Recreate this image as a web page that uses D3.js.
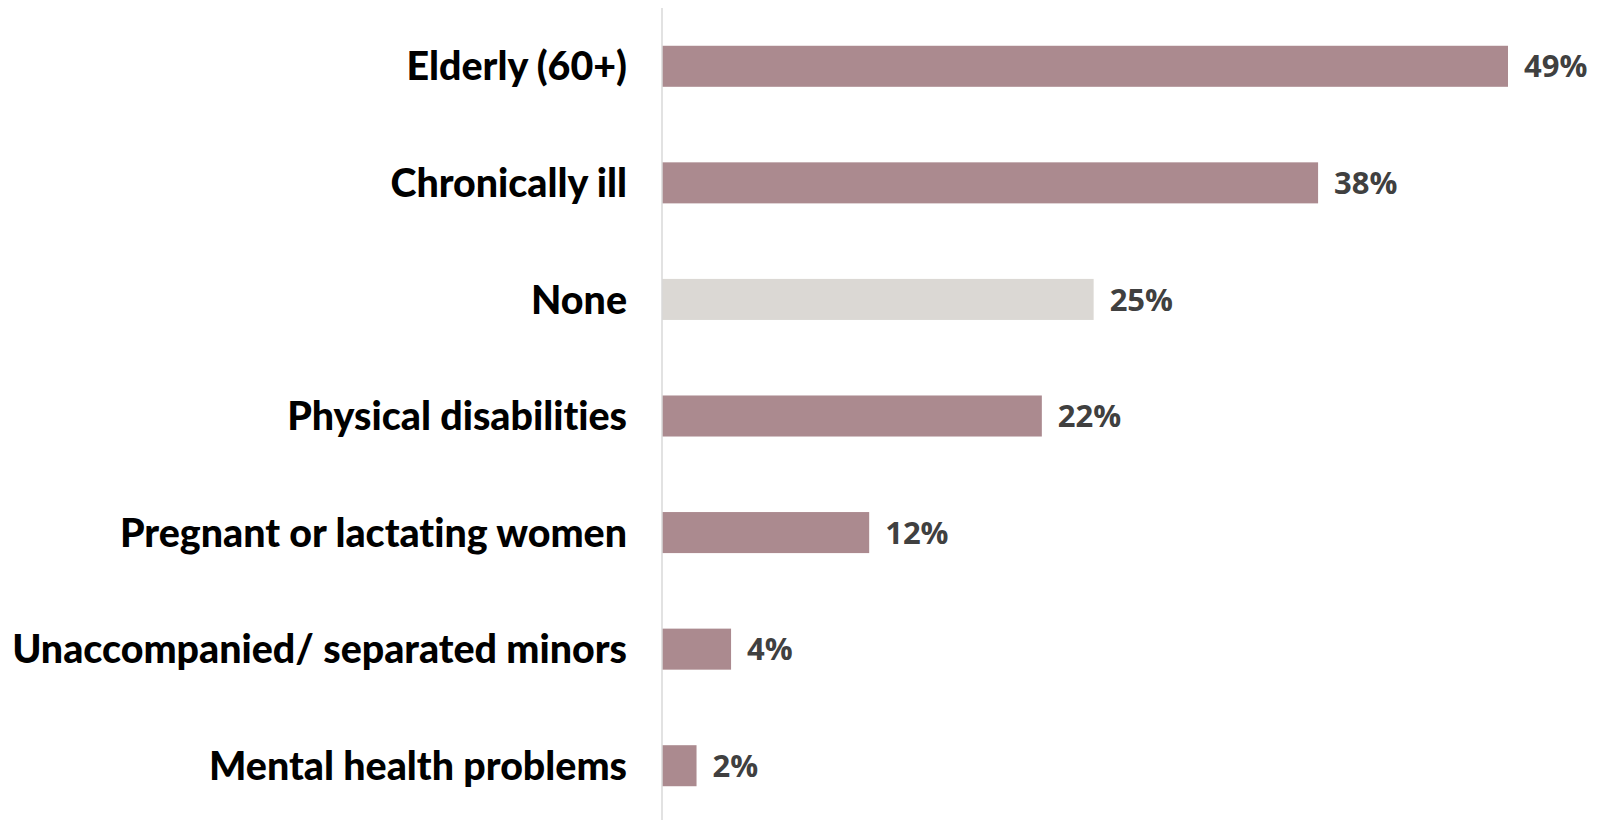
<!DOCTYPE html>
<html>
<head>
<meta charset="utf-8">
<script src="https://cdn.jsdelivr.net/npm/d3@7"></script>
<style>
  html, body { margin: 0; padding: 0; background: #fff; }
  svg { display: block; }
  .cat-label { font-variant-ligatures: none; font-feature-settings: "liga" 0, "clig" 0; }
</style>
</head>
<body>
<svg id="chart" width="1598" height="820"></svg>
<script>
// Groups with specific needs and share of respondents
const categories = [
  "Elderly (60+)",
  "Chronically ill",
  "None",
  "Physical disabilities",
  "Pregnant or lactating women",
  "Unaccompanied/ separated minors",
  "Mental health problems"
];
const values = [49, 38, 25, 22, 12, 4, 2];
const highlightNone = ["None"];

const W = 1598, H = 820;
const axisX = 662;
const barMaxX = 1508;

const svg = d3.select("#chart");

const y = d3.scaleBand()
  .domain(categories)
  .range([8, 824])
  .paddingInner(0.648)
  .paddingOuter(0.324);

const x = d3.scaleLinear()
  .domain([0, d3.max(values)])
  .range([axisX, barMaxX]);

const data = categories.map((c, i) => ({ cat: c, val: values[i] }));

// bars
svg.append("g")
  .selectAll("rect")
  .data(data)
  .join("rect")
  .attr("x", x(0))
  .attr("y", d => y(d.cat))
  .attr("width", d => x(d.val) - x(0))
  .attr("height", y.bandwidth())
  .attr("fill", d => highlightNone.includes(d.cat) ? "#dbd8d4" : "#ab8a8f");

// vertical baseline
svg.append("line")
  .attr("x1", axisX).attr("x2", axisX)
  .attr("y1", 8).attr("y2", H)
  .attr("stroke", "#d9d9d9")
  .attr("stroke-width", 1.5);

// category labels via a left axis
const yAxis = d3.axisLeft(y).tickSize(0).tickPadding(0);
const gy = svg.append("g")
  .attr("transform", `translate(${axisX - 35},0)`)
  .call(yAxis);
gy.select(".domain").remove();
gy.selectAll("text")
  .attr("class", "cat-label")
  .attr("fill", "#000")
  .attr("font-family", "Lato, 'Open Sans', sans-serif")
  .attr("font-weight", 900)
  .attr("font-size", 32)
  .attr("dy", "0.36em");

// fit label size so the longest label spans the available width
let longest = 0;
gy.selectAll("text").each(function () {
  longest = Math.max(longest, this.getComputedTextLength());
});
const fitted = 32 * 615 / longest;
gy.selectAll("text").attr("font-size", fitted);

// value labels
svg.append("g")
  .selectAll("text")
  .data(data)
  .join("text")
  .attr("x", d => x(d.val) + 16)
  .attr("y", d => y(d.cat) + y.bandwidth() / 2)
  .attr("dy", "0.36em")
  .attr("fill", "#404040")
  .attr("font-family", "'Open Sans', sans-serif")
  .attr("font-weight", 700)
  .attr("font-size", 31)
  .text(d => d.val + "%");
</script>
</body>
</html>
